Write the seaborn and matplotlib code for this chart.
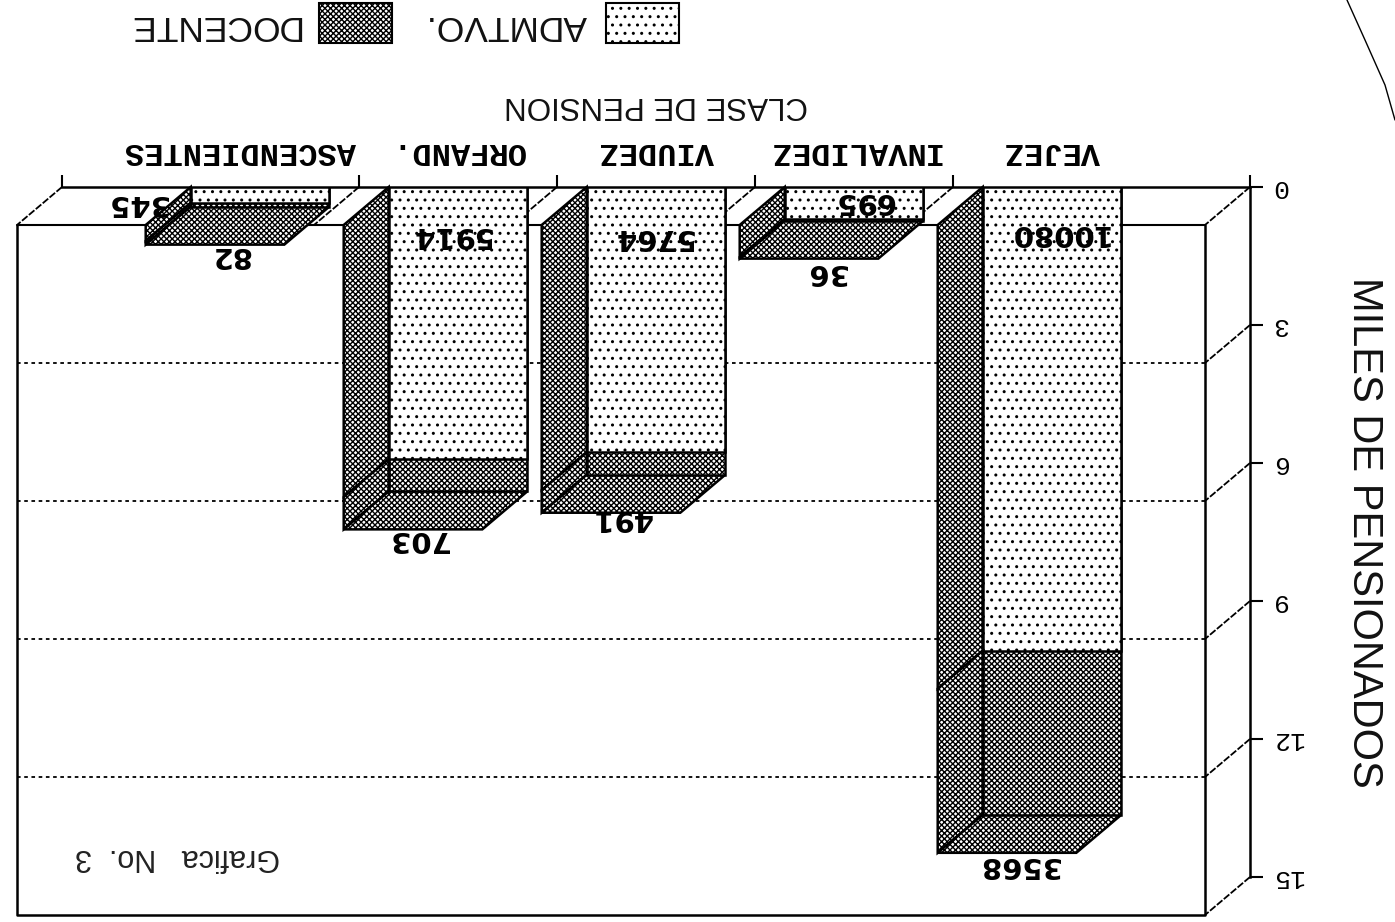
import matplotlib
matplotlib.use("Agg")
import matplotlib.pyplot as plt
from matplotlib.patches import Polygon, Patch
from matplotlib.lines import Line2D
from matplotlib.transforms import ScaledTranslation
import seaborn as sns

categories = ["VEJEZ", "INVALIDEZ", "VIUDEZ", "ORFAND.", "ASCENDIENTES"]
admtvo = [10080, 695, 5764, 5914, 345]
docente = [3568, 36, 491, 703, 82]
y_ticks = [0, 3, 6, 9, 12, 15]

W, H = 1395, 922
DEPTH_X = 45 / 198      # oblique depth, in category units
DEPTH_Y = 38 / 46       # oblique depth, in thousands
BAR_W = 0.70
DARK = "xxxxxx"
LIGHT = ".."
MONO = "Liberation Mono"
SANS = "Liberation Sans"

sns.set_style("white")
plt.rcParams["font.family"] = [SANS, "DejaVu Sans"]
plt.rcParams["hatch.linewidth"] = 1.0
plt.rcParams["hatch.color"] = "black"

adm_k = [v / 1000 for v in admtvo]
tot_k = [(a + d) / 1000 for a, d in zip(admtvo, docente)]

fig = plt.figure(figsize=(W / 100, H / 100), dpi=100, facecolor="white")
ax = fig.add_axes([62 / W, 1 - 877 / H, 1188 / W, 690 / H])
ax.set_facecolor("none")

bar_kw = dict(color="white", saturation=1, edgecolor="black", linewidth=1.8, width=BAR_W, ax=ax)
sns.barplot(x=categories, y=tot_k, hatch=DARK, zorder=3, **bar_kw)
sns.barplot(x=categories, y=adm_k, hatch=LIGHT, zorder=3.5, **bar_kw)

ax.set_xlim(5, -1)
ax.set_ylim(15, 0)
x0, x1 = ax.get_xlim()

# back wall and floor
line_kw = dict(color="black", clip_on=False, zorder=1)
ax.plot([x0 + DEPTH_X, x0 + DEPTH_X, x1 + DEPTH_X, x1 + DEPTH_X],
        [DEPTH_Y, 15 + DEPTH_Y, 15 + DEPTH_Y, DEPTH_Y], lw=1.8, **line_kw)
ax.plot([x0 + DEPTH_X, x1 + DEPTH_X], [DEPTH_Y, DEPTH_Y], lw=1.5, **line_kw)
for v in y_ticks:
    ax.plot([x1, x1 + DEPTH_X], [v, v + DEPTH_Y], lw=1.3, ls=(0, (4, 1)), **line_kw)
    if 0 < v < 15:
        ax.plot([x0 + DEPTH_X, x1 + DEPTH_X], [v + DEPTH_Y] * 2, lw=1.3, ls=(0, (2, 2)), **line_kw)
boundaries = [x1, 0.5, 1.5, 2.5, 3.5, x0]
for b in boundaries[1:]:
    ax.plot([b, b + DEPTH_X], [0, DEPTH_Y], lw=1.3, ls=(0, (4, 1)), **line_kw)

# oblique faces of the bars
face_kw = dict(closed=True, facecolor="white", edgecolor="black", linewidth=1.8,
               hatch=DARK, clip_on=False, zorder=2)
for i, (a, t) in enumerate(zip(adm_k, tot_k)):
    left = i + BAR_W / 2
    right = i - BAR_W / 2
    for lo, hi in ((0, a), (a, t)):
        ax.add_patch(Polygon([(left, lo), (left, hi), (left + DEPTH_X, hi + DEPTH_Y),
                              (left + DEPTH_X, lo + DEPTH_Y)], **face_kw))
    ax.add_patch(Polygon([(left, t), (right, t), (right + DEPTH_X, t + DEPTH_Y),
                          (left + DEPTH_X, t + DEPTH_Y)], **face_kw))

# value labels
val_kw = dict(textcoords="offset pixels", rotation=180, ha="center", va="center",
              fontsize=21, fontweight="bold", family="DejaVu Sans", color="black",
              annotation_clip=False, zorder=6)
adm_offset = [(5, -46), (10, -14), (-4, -50), (-8, -48), (-123, -16)]
doc_offset = [(-33, -12), (-28, -13), (-35, -5), (-40, -10), (-30, -10)]
for i in range(len(categories)):
    ax.annotate(str(admtvo[i]), xy=(i, 0), xytext=adm_offset[i], **val_kw)
    ax.annotate(str(docente[i]), xy=(i, tot_k[i] + DEPTH_Y), xytext=doc_offset[i], **val_kw)

# axes furniture
sns.despine(ax=ax, left=True, bottom=True, top=False, right=False)
for s in ("top", "right"):
    ax.spines[s].set_linewidth(1.8)
    ax.spines[s].set_color("black")
ax.xaxis.tick_top()
ax.yaxis.tick_right()
ax.set_xticks(range(len(categories)), categories, rotation=180, ha="center",
              family=MONO, fontweight="bold", fontsize=23)
ax.set_xticks(boundaries, minor=True)
ax.tick_params(axis="x", which="major", length=0, pad=15, top=True, bottom=False)
ax.tick_params(axis="x", which="minor", length=9, width=1.5, color="black", top=True, bottom=False)
ax.set_yticks(y_ticks, [str(v) for v in y_ticks], rotation=180, family=MONO, fontsize=19, va="center")
ax.tick_params(axis="y", length=9.5, width=1.5, color="black", pad=6, right=True, left=False)
ax.tick_params(colors="black", which="both")

label_shift = [0, 0, 0, 0, -19]
for lab, dx in zip(ax.get_xticklabels(), label_shift):
    lab.set_transform(lab.get_transform() + ScaledTranslation(dx / 100, 0, fig.dpi_scale_trans))

ax.xaxis.set_label_position("top")
ax.set_xlabel("CLASE DE PENSION", rotation=180, fontsize=22.5, labelpad=17, color="#111111")
ax.yaxis.set_label_position("right")
ax.set_ylabel("MILES DE PENSIONADOS", rotation=-90, fontsize=30, labelpad=29, color="#111111",
              va="bottom")

ax.text(178 / W, 1 - 857 / H, "Grafica   No.  3", transform=fig.transFigure, rotation=180,
        ha="center", va="center", fontsize=22, color="#222222")

handles = [Patch(facecolor="white", edgecolor="black", hatch=DARK, linewidth=1.5, label="DOCENTE"),
           Patch(facecolor="white", edgecolor="black", hatch=LIGHT, linewidth=1.5, label="ADMTVO.")]
leg = fig.legend(handles=handles, ncol=2, markerfirst=False, frameon=False, fontsize=25.5,
                 handlelength=2.05, handleheight=1.35, handletextpad=0.55, columnspacing=0.95,
                 loc="center", bbox_to_anchor=(403 / W, 1 - 23 / H))
for t in leg.get_texts():
    t.set_rotation(180)
    t.set_color("#111111")

# the page corner caught by the scanner
scan_x = [1347, 1365, 1385, 1395]
scan_y = [0, 40, 85, 120]
fig.add_artist(Line2D([x / W for x in scan_x], [1 - y / H for y in scan_y], color="black", lw=1))

fig.savefig("out.png", dpi=100)
